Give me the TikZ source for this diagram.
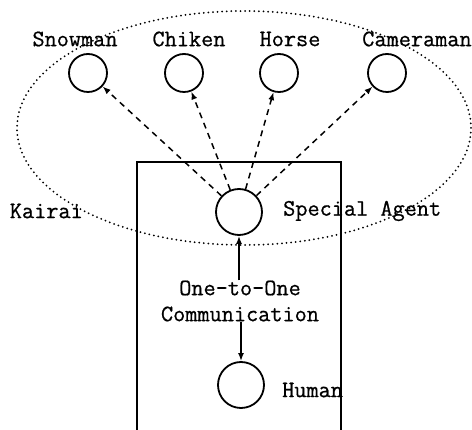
\documentclass[tikz,border=0pt]{standalone}
\usepackage{fontspec}
\newfontfamily\labelmono[FakeBold=0.7]{Latin Modern Mono}
\usetikzlibrary{arrows.meta}
\begin{document}
\begin{tikzpicture}[x=1pt,y=-1pt,
  agent/.style={circle,draw,line width=1.8pt,minimum size=38pt,inner sep=0pt},
  bigagent/.style={agent,minimum size=46pt},
  lbl/.style={font=\labelmono\fontsize{23.6}{26}\selectfont,inner sep=0pt},
  tip/.style={-{Latex[length=8pt,width=6pt]}},
  dashline/.style={tip,line width=1.5pt,dash pattern=on 6pt off 5pt},
  solidline/.style={tip,line width=1.6pt}]
\useasboundingbox (0,0) rectangle (472,430);
\fill[white] (0,0) rectangle (472,430);

% group of characters controlled by the special agent
\draw[line width=2pt,line cap=round,dash pattern=on 0pt off 4.6pt]
  (244,128) ellipse [x radius=227, y radius=117];

% frame around the special agent and the human
\draw[line width=1.6pt] (137,432) -- (137,162) -- (341,162) -- (341,432);

% character nodes
\node[agent] (snow) at (88,73) {};
\node[agent] (chik) at (184,73) {};
\node[agent] (horse) at (279,73) {};
\node[agent] (cam) at (387,73) {};
\node[lbl] at (75,39) {Snowman};
\node[lbl] at (189,39) {Chiken};
\node[lbl] at (290,39) {Horse};
\node[lbl] at (417,39) {Cameraman};

% special agent and human
\node[bigagent] (sa) at (239,212) {};
\node[bigagent] (hum) at (241,385) {};
\node[lbl,anchor=west] at (283,211) {Special Agent};
\node[lbl,anchor=east] at (83,211) {Kairai};
\node[lbl,anchor=west] at (282,390) {Human};

% communication label
\node[lbl,align=center] (comm) at (240,301) {One-to-One\\[0pt]Communication};

% connectors
\draw[dashline] (sa) -- (snow);
\draw[dashline] (sa) -- (chik);
\draw[dashline] (sa) -- (horse);
\draw[dashline] (sa) -- (cam);
\draw[solidline] (comm.north -| sa) -- (sa);
\draw[solidline] (comm.south -| hum) -- (hum);
\end{tikzpicture}
\end{document}
